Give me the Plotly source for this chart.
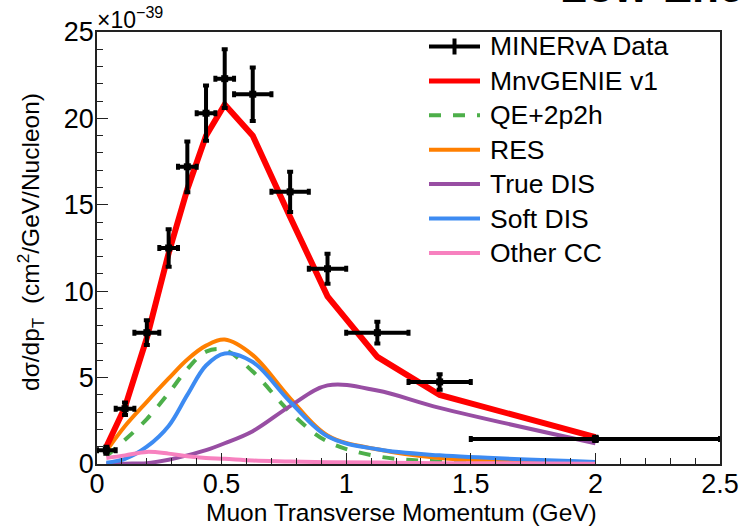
import plotly.graph_objects as go

# ---- data (cross section in units of 1e-39 cm^2/GeV/nucleon) ----
bin_lo = [0.0, 0.075, 0.15, 0.25, 0.325, 0.4, 0.475, 0.55, 0.7, 0.85, 1.0, 1.25, 1.5]
bin_hi = [0.075, 0.15, 0.25, 0.325, 0.4, 0.475, 0.55, 0.7, 0.85, 1.0, 1.25, 1.5, 2.5]
data_y = [0.8, 3.2, 7.6, 12.5, 17.2, 20.3, 22.3, 21.4, 15.75, 11.3, 7.6, 4.75, 1.45]
data_err = [0.2, 0.36, 0.72, 1.08, 1.47, 1.6, 1.7, 1.55, 1.16, 0.87, 0.63, 0.45, 0.12]

model_x = [0.0375, 0.1125, 0.2, 0.2875, 0.3625, 0.4375, 0.5125, 0.625, 0.775, 0.925, 1.125, 1.375, 2.0]
mnvgenie = [1.0, 3.3, 7.3, 12.2, 15.9, 19.0, 20.8, 19.0, 14.3, 9.7, 6.2, 4.0, 1.55]
qe_2p2h = [0.45, 1.4, 2.6, 4.1, 5.5, 6.5, 6.6, 5.35, 3.0, 1.3, 0.45, 0.15, 0.02]
res = [0.75, 2.2, 3.6, 4.95, 6.05, 6.85, 7.2, 6.3, 3.8, 1.65, 0.85, 0.35, 0.05]
true_dis = [0.0, 0.02, 0.05, 0.25, 0.5, 0.8, 1.2, 1.9, 3.35, 4.55, 4.25, 3.25, 1.2]
soft_dis = [0.08, 0.3, 1.0, 2.2, 4.0, 5.7, 6.4, 5.9, 3.6, 1.6, 0.85, 0.5, 0.12]
other_cc = [0.35, 0.5, 0.7, 0.6, 0.45, 0.35, 0.3, 0.2, 0.15, 0.1, 0.08, 0.05, 0.02]

x_ticks = [0, 0.5, 1, 1.5, 2, 2.5]
x_ticklabels = ["0", "0.5", "1", "1.5", "2", "2.5"]
y_ticks = [0, 5, 10, 15, 20, 25]
y_ticklabels = ["0", "5", "10", "15", "20", "25"]

FONT = "Liberation Sans, Arial, Helvetica, sans-serif"
W, H = 742, 532
ML, MR, MT, MB = 97, 22, 32, 68
PW, PH = W - ML - MR, H - MT - MB


def fx(xp):
    return (xp - ML) / PW


def fy(yp):
    return 1 - (yp - MT) / PH


centers = [(a + b) / 2 for a, b in zip(bin_lo, bin_hi)]
halfw = [(b - a) / 2 for a, b in zip(bin_lo, bin_hi)]

components = [
    ("QE+2p2h", qe_2p2h, "#4daf4a", "dash"),
    ("RES", res, "#ff7f00", "solid"),
    ("True DIS", true_dis, "#984ea3", "solid"),
    ("Soft DIS", soft_dis, "#3d8bf2", "solid"),
    ("Other CC", other_cc, "#f781bf", "solid"),
]

fig = go.Figure()

for name, vals, col, dash in components:
    fig.add_trace(go.Scatter(
        x=model_x, y=vals, mode="lines", name=name,
        line=dict(color=col, width=4, dash=dash, shape="spline", smoothing=1.0),
        showlegend=False,
    ))

fig.add_trace(go.Scatter(
    x=model_x, y=mnvgenie, mode="lines", name="MnvGENIE v1",
    line=dict(color="#ff0000", width=6), showlegend=False,
))

fig.add_trace(go.Scatter(
    x=centers, y=data_y, mode="markers", name="MINERvA Data",
    marker=dict(color="black", size=7, symbol="square"),
    error_x=dict(type="data", array=halfw, color="black", thickness=4, width=3),
    error_y=dict(type="data", array=data_err, color="black", thickness=4, width=3),
    showlegend=False, cliponaxis=False,
))

# ---- hand-drawn legend ----
legend_rows = [("MINERvA Data", "black", "solid", 4)] + [("MnvGENIE v1", "#ff0000", "solid", 5)] + \
    [(n, c, "dash" if d == "dash" else "solid", 4) for n, _, c, d in components]
row0, row_step = 46.5, 34.4
shapes = []
annotations = []
for i, (name, col, dash, w) in enumerate(legend_rows):
    yp = row0 + i * row_step
    shapes.append(dict(type="line", xref="paper", yref="paper",
                       x0=fx(429), x1=fx(480), y0=fy(yp), y1=fy(yp),
                       line=dict(color=col, width=w, dash=dash)))
    if i == 0:
        shapes.append(dict(type="line", xref="paper", yref="paper",
                           x0=fx(454.5), x1=fx(454.5), y0=fy(yp - 8), y1=fy(yp + 8),
                           line=dict(color=col, width=w)))
    annotations.append(dict(text=name, xref="paper", yref="paper",
                            x=fx(488), y=fy(yp), xanchor="left", yanchor="middle",
                            showarrow=False, font=dict(family=FONT, size=26.5, color="black")))

annotations += [
    dict(text="Muon Transverse Momentum (GeV)", xref="paper", yref="paper",
         x=fx(401), y=fy(512), xanchor="center", yanchor="middle", showarrow=False,
         font=dict(family=FONT, size=24.5, color="black")),
    dict(text="dσ/dp<sub>T</sub>  (cm<sup>2</sup>/GeV/Nucleon)", xref="paper", yref="paper",
         x=fx(30), y=fy(242), xanchor="center", yanchor="middle", textangle=-90,
         showarrow=False, font=dict(family=FONT, size=24.5, color="black")),
    dict(text="×10<sup>−39</sup>", xref="paper", yref="paper",
         x=fx(95), y=fy(18), xanchor="left", yanchor="middle", showarrow=False,
         font=dict(family=FONT, size=23, color="black")),
    dict(text="<b>Low-Energy</b>", xref="paper", yref="paper",
         x=fx(558), y=fy(13), xanchor="left", yanchor="bottom", showarrow=False,
         font=dict(family=FONT, size=44, color="black")),
]

axis_common = dict(
    showgrid=False, zeroline=False, showline=True, linecolor="#222", linewidth=1.5,
    mirror=True, ticks="inside", ticklen=11, tickwidth=1.2, tickcolor="#222",
    tickfont=dict(family=FONT, size=27, color="black"), automargin=False,
)

fig.update_layout(
    width=W, height=H, margin=dict(l=ML, r=MR, t=MT, b=MB, autoexpand=False),
    paper_bgcolor="white", plot_bgcolor="white",
    xaxis=dict(range=[0, 2.5], tickvals=x_ticks, ticktext=x_ticklabels,
               ticklabelstandoff=-5,
               minor=dict(dtick=0.1, ticks="inside", ticklen=6, tickcolor="#222"),
               **axis_common),
    yaxis=dict(range=[0, 25], tickvals=y_ticks, ticktext=y_ticklabels,
               ticklabelstandoff=-4,
               minor=dict(dtick=1, ticks="inside", ticklen=6, tickcolor="#222"),
               **axis_common),
    shapes=shapes, annotations=annotations, showlegend=False,
)

fig.write_html("out.html")
